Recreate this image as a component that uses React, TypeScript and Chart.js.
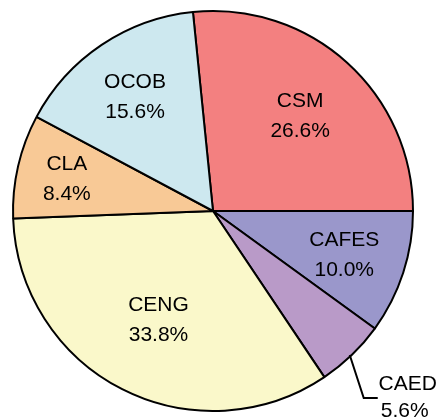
import React, { useEffect, useRef } from "react";
import { Chart, registerables } from "chart.js";

Chart.register(...registerables);

const categories = ["CSM", "CAFES", "CAED", "CENG", "CLA", "OCOB"];
const shares = [26.6, 10.0, 5.6, 33.8, 8.4, 15.6];
const percentLabels = ["26.6%", "10.0%", "5.6%", "33.8%", "8.4%", "15.6%"];
const sliceColors = ["#F38080", "#9A97CB", "#B99AC8", "#FAF8CA", "#F8C996", "#CDE8EF"];

// label radius fraction per slice (style only); negative => outside with leader
const labelRadius = [0.65, 0.69, -1, 0.6, 0.75, 0.7];

const labelPlugin = {
  id: "sliceLabels",
  afterDatasetsDraw(chart: any) {
    const ctx = chart.ctx;
    const meta = chart.getDatasetMeta(0);
    ctx.save();
    ctx.font = "21px 'Liberation Sans', Arial, sans-serif";
    ctx.fillStyle = "#000";
    ctx.textBaseline = "middle";
    meta.data.forEach((arc: any, i: number) => {
      const { x, y, startAngle, endAngle, outerRadius } = arc.getProps(
        ["x", "y", "startAngle", "endAngle", "outerRadius"],
        true
      );
      const mid = (startAngle + endAngle) / 2;
      const f = labelRadius[i];
      if (f > 0) {
        const lx = x + Math.cos(mid) * outerRadius * f;
        const ly = y + Math.sin(mid) * outerRadius * f + 2;
        ctx.textAlign = "center";
        ctx.fillText(categories[i], lx, ly - 15);
        ctx.fillText(percentLabels[i], lx, ly + 15);
      } else {
        const ex = x + Math.cos(mid) * outerRadius;
        const ey = y + Math.sin(mid) * outerRadius;
        const bx = ex + 12;
        const by = ey + 43;
        ctx.strokeStyle = "#000";
        ctx.lineWidth = 2;
        ctx.beginPath();
        ctx.moveTo(ex - 2, ey);
        ctx.lineTo(bx, by);
        ctx.lineTo(bx + 14, by);
        ctx.stroke();
        ctx.textAlign = "center";
        ctx.fillText(categories[i], bx + 44, by - 14);
        ctx.fillText(percentLabels[i], bx + 41, by + 13);
      }
    });
    ctx.restore();
  },
};

export default function App() {
  const ref = useRef<HTMLCanvasElement>(null);
  useEffect(() => {
    if (!ref.current) return;
    const chart = new Chart(ref.current, {
      type: "pie",
      data: {
        labels: categories,
        datasets: [
          {
            data: shares,
            backgroundColor: sliceColors,
            borderColor: "#000",
            borderWidth: 2,
          },
        ],
      },
      options: {
        animation: false,
        responsive: false,
        rotation: -(shares[0] / 100) * 360 + 90,
        layout: { padding: { left: 12, top: 10, right: 24, bottom: 7 } },
        plugins: {
          legend: { display: false },
          tooltip: { enabled: false },
        },
      },
      plugins: [labelPlugin],
    });
    return () => chart.destroy();
  }, []);
  return (
    <div style={{ position: "fixed", left: 0, top: 0, width: 438, height: 419, background: "#fff" }}>
      <canvas ref={ref} width={438} height={419} style={{ width: 438, height: 419 }} />
    </div>
  );
}
